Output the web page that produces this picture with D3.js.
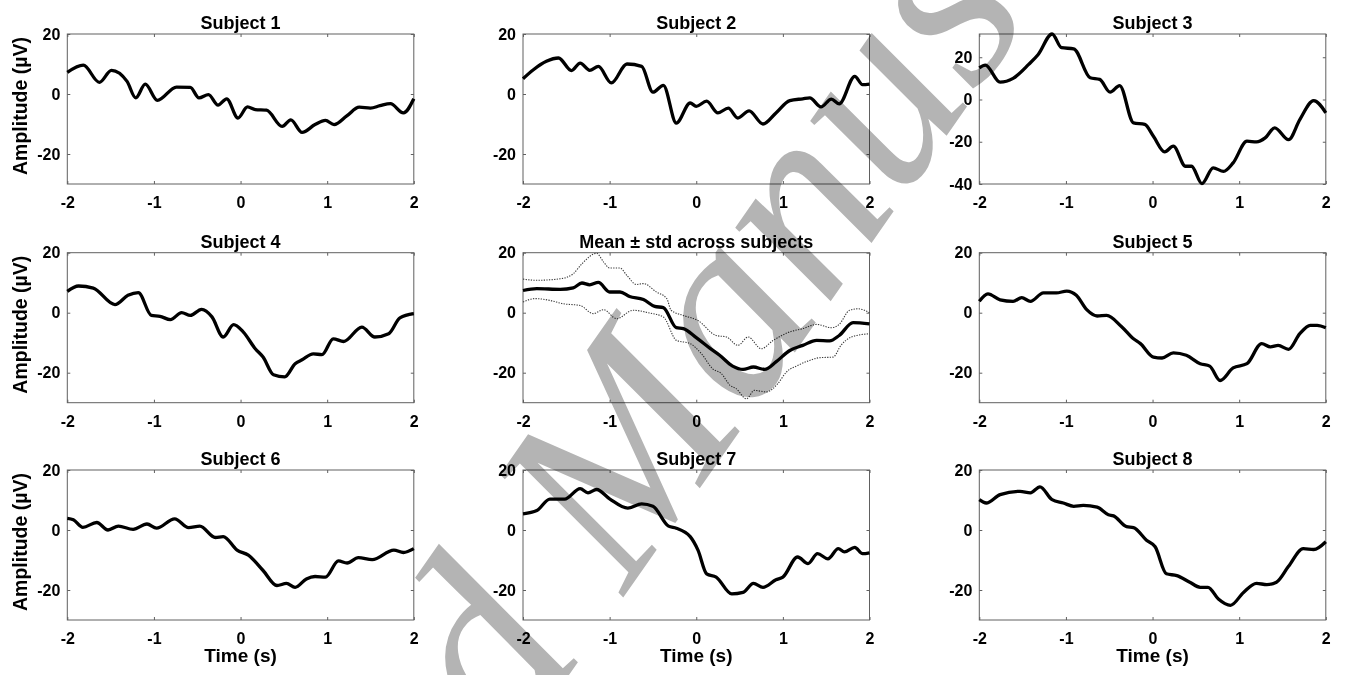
<!DOCTYPE html>
<html><head><meta charset="utf-8">
<script src="https://cdn.jsdelivr.net/npm/d3@7"></script>
<style>
body{margin:0;background:#fff}
svg text{font-family:"Liberation Sans",Arial,sans-serif;font-weight:bold;fill:#000}
</style>
</head><body><svg id="c" width="1347" height="675"></svg>
<script>
// ---- data ----
const xTicks=[-2,-1,0,1,2];
const yTicks=[-20,0,20];
const yTicks3=[-40,-20,0,20];
const titles=["Subject 1","Subject 2","Subject 3","Subject 4","Mean \u00b1 std across subjects","Subject 5","Subject 6","Subject 7","Subject 8"];

const s1t=[-2,-1.815,-1.63,-1.49,-1.31,-1.21,-1.10,-0.96,-0.74,-0.58,-0.48,-0.37,-0.26,-0.16,-0.03,0.08,0.17,0.30,0.48,0.58,0.71,0.86,0.98,1.08,1.23,1.37,1.50,1.61,1.73,1.88,2.0];
const s1v=[7.2,9.6,3.9,7.9,4.2,-1.3,3.3,-2.1,2.3,2.2,-1.3,-0.2,-3.7,-1.6,-8.0,-4.3,-5.2,-5.4,-10.8,-8.6,-12.8,-10.2,-8.8,-10.2,-7.2,-4.4,-4.7,-3.9,-3.2,-6.3,-1.6];

const s2t=[-2,-1.88,-1.73,-1.59,-1.44,-1.34,-1.23,-1.13,-0.98,-0.80,-0.63,-0.50,-0.38,-0.23,-0.07,0.00,0.12,0.25,0.37,0.48,0.61,0.77,0.92,1.08,1.23,1.31,1.44,1.56,1.65,1.83,1.92,2.0];
const s2v=[5.1,8.1,10.9,12.0,7.8,10.3,7.9,9.2,3.7,10.0,9.2,0.6,2.9,-9.7,-3.0,-4.1,-2.4,-6.3,-4.7,-8.0,-5.6,-10.0,-6.3,-2.2,-1.6,-1.3,-4.3,-1.7,-3.3,5.9,3.1,3.3];

const s3t=[-2,-1.93,-1.76,-1.61,-1.43,-1.32,-1.16,-1.05,-0.91,-0.72,-0.61,-0.49,-0.38,-0.22,-0.09,0.01,0.14,0.24,0.38,0.45,0.57,0.70,0.82,0.93,1.09,1.20,1.30,1.41,1.57,1.70,1.86,2.0];
const s3v=[15.0,16.3,8.2,10.0,16.6,21.3,31.0,24.5,24.0,10.3,9.5,3.5,6.6,-11.1,-11.8,-17.4,-24.8,-22.1,-31.6,-31.6,-39.8,-32.4,-34.0,-30.0,-19.7,-20.1,-18.2,-13.4,-19.0,-9.5,-0.5,-6.3];

const s4t=[-2,-1.87,-1.70,-1.45,-1.30,-1.18,-1.03,-0.93,-0.81,-0.68,-0.58,-0.45,-0.33,-0.20,-0.08,0.03,0.17,0.26,0.38,0.51,0.63,0.71,0.84,0.94,1.07,1.19,1.40,1.55,1.71,1.84,2.0];
const s4v=[7.1,8.9,8.2,2.7,5.8,6.7,-0.9,-1.2,-2.3,0,-0.9,1.1,-1.4,-8.1,-4.0,-6.4,-12.0,-14.8,-20.7,-21.4,-17.0,-15.7,-13.7,-14.0,-8.7,-9.6,-4.8,-8.1,-7.0,-1.7,-0.3];

const meanT=[-2,-1.84,-1.57,-1.42,-1.32,-1.23,-1.13,-1.0,-0.88,-0.77,-0.61,-0.48,-0.38,-0.23,-0.15,0.00,0.16,0.27,0.42,0.54,0.66,0.79,0.92,1.08,1.23,1.39,1.54,1.65,1.81,2.0];
const meanV=[7.4,8.0,7.8,8.3,9.9,9.3,10.1,6.9,6.9,5.4,4.4,2.1,1.7,-5.0,-5.3,-8.3,-11.9,-14.2,-17.8,-18.9,-18.1,-18.9,-16.4,-12.6,-10.9,-9.2,-9.4,-7.6,-3.3,-3.7];
const upT=[-2,-1.84,-1.57,-1.42,-1.32,-1.15,-1.07,-1.0,-0.88,-0.80,-0.69,-0.61,-0.46,-0.34,-0.29,-0.15,0.02,0.23,0.35,0.48,0.60,0.75,0.89,1.08,1.23,1.39,1.56,1.65,1.77,1.87,2.0];
const upV=[11.2,10.8,11.3,13.0,16.3,19.8,16.9,14.9,14.9,12.4,9.4,9.7,6.9,4.7,0.8,-0.9,-2.6,-7.6,-8.1,-10.9,-8.1,-12.0,-9.2,-6.4,-5.3,-3.9,-5.0,-3.9,0.8,1.3,0];
const loT=[-2,-1.86,-1.69,-1.54,-1.34,-1.19,-1.07,-0.92,-0.73,-0.54,-0.38,-0.23,-0.07,0.06,0.19,0.29,0.39,0.46,0.58,0.67,0.81,0.94,1.04,1.17,1.31,1.42,1.58,1.67,1.79,2.0];
const loV=[3.6,4.7,4.1,3.0,2.4,-0.3,1.0,-2.0,0.8,-0.1,-1.4,-9.2,-10.3,-13.7,-18.7,-20.3,-24.2,-25.3,-28.7,-25.9,-26.4,-23.7,-19.8,-17.6,-15.9,-15.0,-14.8,-10.9,-8.1,-7.0];

const s5t=[-2,-1.90,-1.76,-1.61,-1.51,-1.41,-1.26,-1.11,-0.99,-0.88,-0.76,-0.64,-0.53,-0.36,-0.22,-0.14,0.01,0.11,0.24,0.39,0.55,0.66,0.78,0.93,1.09,1.26,1.36,1.45,1.57,1.70,1.82,1.90,2.0];
const s5v=[3.8,6.3,4.3,3.8,5.0,3.8,6.6,6.6,7.2,5.8,1.0,-1.1,-0.9,-4.6,-8.7,-10.3,-14.8,-15.1,-13.4,-14.2,-17.0,-17.8,-22.6,-18.4,-17.0,-10.3,-11.4,-10.9,-12.2,-7.0,-4.2,-4.2,-5.0];

const s6t=[-2,-1.93,-1.82,-1.66,-1.53,-1.41,-1.24,-1.08,-0.97,-0.76,-0.60,-0.47,-0.29,-0.20,-0.04,0.09,0.26,0.42,0.53,0.63,0.76,0.86,0.98,1.13,1.23,1.36,1.52,1.77,1.88,2.0];
const s6v=[3.9,3.4,0.9,2.5,0,1.3,0.2,2.0,0.6,3.7,0.8,1.3,-2.5,-2.2,-6.7,-8.4,-13.5,-18.5,-17.8,-19.1,-16.3,-15.5,-15.7,-10.3,-11.0,-9.2,-9.9,-6.7,-7.5,-6.2];

const s7t=[-2,-1.84,-1.69,-1.52,-1.34,-1.25,-1.15,-1.0,-0.79,-0.63,-0.50,-0.32,-0.23,-0.07,0.02,0.12,0.23,0.41,0.54,0.66,0.77,0.92,1.00,1.17,1.29,1.40,1.52,1.64,1.71,1.83,1.92,2.0];
const s7v=[5.4,6.5,10.3,10.3,13.8,12.4,13.5,10.4,7.3,8.7,7.9,1.3,0.6,-2.2,-6.7,-14.6,-15.7,-21.3,-20.8,-17.8,-19.1,-16.6,-15.7,-9.0,-11.2,-7.9,-9.6,-6.2,-7.3,-5.8,-7.9,-7.6];

const s8t=[-2,-1.92,-1.76,-1.53,-1.41,-1.30,-1.16,-1.03,-0.91,-0.80,-0.64,-0.51,-0.45,-0.30,-0.22,-0.07,0.03,0.16,0.28,0.43,0.55,0.64,0.76,0.90,1.05,1.20,1.32,1.43,1.57,1.74,1.86,2.0];
const s8v=[10.1,9.0,11.8,12.9,12.4,14.4,10.1,9.0,7.9,8.2,7.6,5.1,4.7,1.1,0.8,-3.4,-5.6,-14.6,-15.2,-17.4,-19.1,-19.1,-23.0,-25.1,-20.8,-17.8,-18.2,-17.4,-12.1,-6.2,-6.5,-3.9];

// ---- layout ----
const svg=d3.select("#c");
const colX=[67.3,523,979.3], plotW=346.5;
const rowY=[34,252.7,470], plotH=150;
const zip=(t,v)=>t.map((x,i)=>[x,v[i]]);

const panels=[
 {series:[{d:zip(s1t,s1v)}]},
 {series:[{d:zip(s2t,s2v)}]},
 {series:[{d:zip(s3t,s3v)}],ydom:[-40,31],yt:yTicks3},
 {series:[{d:zip(s4t,s4v)}]},
 {series:[{d:zip(upT,upV),dot:true},{d:zip(loT,loV),dot:true},{d:zip(meanT,meanV)}]},
 {series:[{d:zip(s5t,s5v)}]},
 {series:[{d:zip(s6t,s6v)}]},
 {series:[{d:zip(s7t,s7v)}]},
 {series:[{d:zip(s8t,s8v)}]}
];

panels.forEach((p,i)=>{
  const r=Math.floor(i/3), c=i%3;
  const x0=colX[c], y0=rowY[r];
  const g=svg.append("g").attr("transform",`translate(${x0},${y0})`);
  const x=d3.scaleLinear().domain([-2,2]).range([0,plotW]);
  const y=d3.scaleLinear().domain(p.ydom||[-30,20]).range([plotH,0]);
  const yt=p.yt||yTicks;
  const ax=(a)=>a.tickSizeInner(-3).tickSizeOuter(0);
  const bx=g.append("g").attr("transform",`translate(0,${plotH})`).call(ax(d3.axisBottom(x).tickValues(xTicks).tickFormat(d3.format("d"))).tickPadding(13));
  const tx=g.append("g").call(ax(d3.axisTop(x).tickValues(xTicks).tickFormat("")));
  const ly=g.append("g").call(ax(d3.axisLeft(y).tickValues(yt).tickFormat(d3.format("d"))).tickPadding(7));
  const ry=g.append("g").attr("transform",`translate(${plotW},0)`).call(ax(d3.axisRight(y).tickValues(yt).tickFormat("")));
  [bx,tx,ly,ry].forEach(a=>{a.select(".domain").remove();a.selectAll("line").attr("stroke","#606060");a.selectAll("text").style("font-size","16px").text(function(){return this.textContent.replace("\u2212","-");});});
  g.append("rect").attr("width",plotW).attr("height",plotH).attr("fill","none").attr("stroke","#606060").attr("stroke-width",1);
  const line=d3.line().x(d=>x(d[0])).y(d=>y(d[1])).curve(d3.curveMonotoneX);
  p.series.forEach(s=>{
    g.append("path").attr("d",line(s.d)).attr("fill","none")
     .attr("stroke",s.dot?"#3a3a3a":"#000")
     .attr("stroke-width",s.dot?1.1:3.3)
     .attr("stroke-dasharray",s.dot?"1.3,1.3":null)
     .attr("stroke-linejoin","round");
  });
  g.append("text").attr("x",plotW/2).attr("y",-5).attr("text-anchor","middle").style("font-size","18px").text(titles[i]);
  if(c===0){
    g.append("text").attr("transform",`translate(-40,${plotH/2-3}) rotate(-90)`).attr("text-anchor","middle").style("font-size","19.5px").text("Amplitude (\u00b5V)");
  }
  if(r===2){
    g.append("text").attr("x",plotW/2).attr("y",plotH+42).attr("text-anchor","middle").style("font-size","19px").text("Time (s)");
  }
});

// ---- watermark ----
const wm=svg.append("text").text("Accepted Manuscript")
  .style("font-family","'Liberation Serif','Times New Roman',serif")
  .style("font-style","italic").style("font-weight","normal")
  .style("font-size","262px").style("fill","#b4b4b4")
  .style("mix-blend-mode","multiply");
const off=wm.node().getSubStringLength(0,9);
wm.attr("transform",`translate(625,595) rotate(-55) translate(${-off},0)`);
</script>
</body></html>
